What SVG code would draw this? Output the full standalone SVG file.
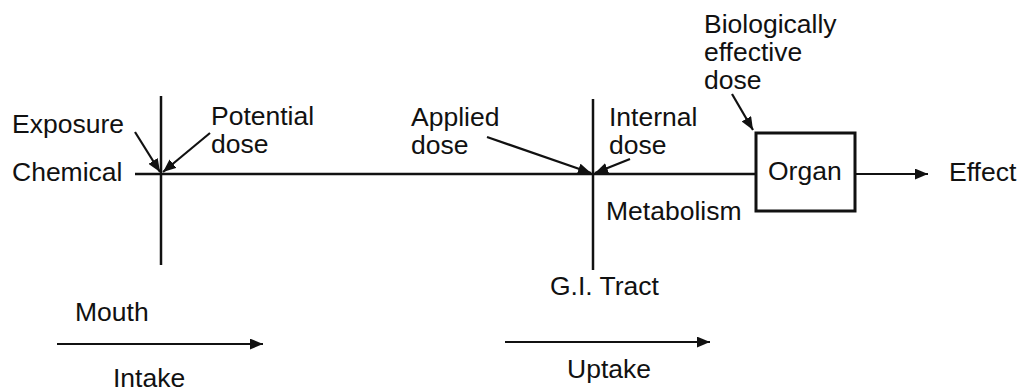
<svg xmlns="http://www.w3.org/2000/svg" width="1028" height="392" viewBox="0 0 1028 392">
  <style>
    text { font-family: "Liberation Sans", Arial, sans-serif; font-size: 26.5px; fill: #111; }
    .ln { stroke: #111; stroke-width: 2.5; fill: none; }
    .ar { stroke: #111; stroke-width: 2.2; fill: none; marker-end: url(#ah); }
  </style>
  <defs>
    <marker id="ah" viewBox="0 0 12 10" refX="12" refY="5" markerWidth="13" markerHeight="11" markerUnits="userSpaceOnUse" orient="auto">
      <path d="M0,0 L12,5 L0,10 z" fill="#111"/>
    </marker>
  </defs>
  <rect width="1028" height="392" fill="#fff"/>

  <g id="connectors">
    <line class="ln" x1="135" y1="174" x2="756" y2="174"/>
    <line class="ln" x1="161" y1="96" x2="161" y2="265"/>
    <line class="ln" x1="593" y1="99" x2="593" y2="270"/>
    <line class="ar" x1="855" y1="174" x2="928" y2="174"/>
    <line class="ar" x1="135" y1="132" x2="160" y2="172"/>
    <line class="ar" x1="210" y1="133" x2="163" y2="172"/>
    <line class="ar" x1="487" y1="137" x2="591" y2="173"/>
    <line class="ar" x1="630" y1="159" x2="595" y2="173"/>
    <line class="ar" x1="732" y1="94" x2="753" y2="130"/>
    <line class="ar" x1="57" y1="344" x2="263" y2="344"/>
    <line class="ar" x1="505" y1="342" x2="710" y2="342"/>
  </g>

  <g id="organ">
    <rect x="756" y="133" width="99" height="78" fill="#fff" stroke="#111" stroke-width="3"/>
    <text x="768" y="180">Organ</text>
  </g>
  <g id="effect"><text x="949" y="181">Effect</text></g>
  <g id="chemical"><text x="12" y="181">Chemical</text></g>
  <g id="exposure"><text x="12" y="133">Exposure</text></g>
  <g id="potential-dose"><text x="211" y="125">Potential</text><text x="211" y="153">dose</text></g>
  <g id="applied-dose"><text x="411" y="126">Applied</text><text x="411" y="154">dose</text></g>
  <g id="internal-dose"><text x="609" y="126">Internal</text><text x="609" y="154">dose</text></g>
  <g id="metabolism"><text x="606" y="220">Metabolism</text></g>
  <g id="bio-dose"><text x="704" y="33">Biologically</text><text x="704" y="61">effective</text><text x="704" y="89">dose</text></g>
  <g id="gi-tract"><text x="550" y="295">G.I. Tract</text></g>
  <g id="mouth"><text x="75" y="321">Mouth</text></g>
  <g id="intake"><text x="113" y="387">Intake</text></g>
  <g id="uptake"><text x="567" y="378">Uptake</text></g>
</svg>
